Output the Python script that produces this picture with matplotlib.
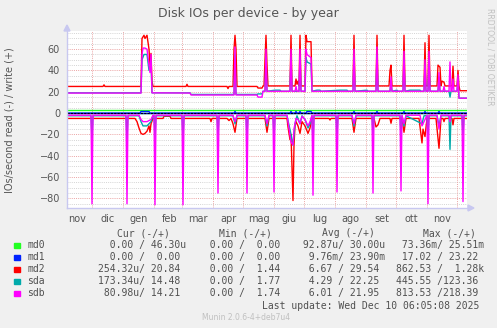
import datetime as dt
import matplotlib
matplotlib.use("Agg")
import matplotlib.pyplot as plt
from matplotlib.patches import Rectangle, Polygon
from matplotlib.lines import Line2D

# x = days since 2024-11-06 (graph covers 400 days up to Dec 10 2025)
start = dt.date(2024, 11, 6)
month_names = ["gen", "feb", "mar", "apr", "mag", "giu",
               "lug", "ago", "set", "ott", "nov", "dic"]

# ---- write side (+) ----
md0_w_x = [0, 400]
md0_w_y = [2.8, 2.8]

md1_w_x = [0, 73, 74, 82, 83, 167, 168, 169, 223, 224, 225, 228, 229, 230, 232, 233, 234,
           239, 240, 244, 245, 286, 287, 288, 309, 310, 311, 336, 337, 338, 357, 358, 359,
           371, 372, 373, 400]
md1_w_y = [0, 0, 1.5, 1.5, 0, 0, 1.5, 0, 0, 1.5, 0, 0, 1.5, 0, 0, 1.5, 0,
           0, 1.5, 1.5, 0, 0, 1.5, 0, 0, 1.5, 0, 0, 1.5, 0, 0, 1.5, 0,
           0, 1.5, 0, 0]

md2_w_x = [0, 36, 37, 38, 74, 75, 77, 78, 80, 82, 83, 84, 85, 86,
           119, 120, 121, 160, 161, 162,
           166, 167, 168, 169, 170,
           190, 191, 195, 196,
           197, 198, 199, 200, 201,
           223, 224, 225,
           228, 229, 230, 231, 232, 233, 234,
           238, 239, 240, 244, 245,
           286, 287, 288, 309, 310, 311,
           322, 323, 324, 325, 336, 337, 338,
           357, 358, 359, 361, 362, 363,
           370, 371, 373, 374, 375, 377, 378,
           385, 386, 387, 390, 391, 392, 393, 400]
md2_w_y = [25, 25, 26.5, 25, 25, 70, 73, 70, 73, 60, 45, 56, 30, 25,
           25, 27, 25, 25, 23, 25,
           25, 60, 73, 60, 25,
           25, 23.5, 23.5, 25.5,
           25.5, 50, 73, 45, 25.5,
           25.5, 73, 25.5,
           25.5, 32, 27, 30, 25.5, 73, 25.5,
           25.5, 73, 67, 67, 25.5,
           25.5, 73, 25.5, 25.5, 73, 25.5,
           25.5, 40, 45, 25.5, 25.5, 73, 25.5,
           25.5, 66, 25.5, 25.5, 73, 25.5,
           25.5, 45, 43, 25.5, 30, 29, 25.5,
           25.5, 44, 25.5, 25.5, 40, 25, 21, 21]

sda_w_x = [0, 74, 75, 77, 80, 82, 84, 85, 123, 124, 167, 168, 169, 190, 191, 195, 196,
           198, 199, 200, 208, 213, 214, 223, 224, 225, 232, 233, 234, 238, 239, 240, 244, 245,
           250, 253, 254, 273, 280, 281, 286, 287, 288, 300, 301, 309, 310, 311,
           323, 324, 325, 330, 331, 336, 337, 338, 343, 353, 354, 357, 358, 359,
           361, 362, 363, 371, 372, 373, 382, 383, 384, 390, 391, 392, 400]
sda_w_y = [19, 19, 50, 55, 55, 40, 48, 19, 19, 17.5, 17.5, 55, 17.5, 17.5, 18, 18, 20.5,
           20.5, 52, 20.5, 21.5, 21.5, 20.5, 20.5, 52, 20.5, 20.5, 52, 20.5, 20.5, 52, 48, 46, 20.5,
           21.5, 21.5, 20.5, 21.5, 21.5, 20.5, 20.5, 52, 20.5, 21.5, 20.5, 20.5, 54, 20.5,
           20.5, 30, 20.5, 21.5, 20.5, 20.5, 50, 20.5, 21.5, 21.5, 20.5, 20.5, 44, 20.5,
           20.5, 50, 20.5, 20.5, 34, 20.5, 20.5, 15, 20.5, 20.5, 32, 14, 14]

sdb_w_x = [0, 74, 75, 76, 78, 80, 82, 83, 84, 85, 123, 124, 167, 168, 169, 190, 191, 195, 196,
           198, 199, 200, 223, 224, 225, 228, 229, 230, 232, 233, 234, 238, 239, 240, 244, 245,
           286, 287, 288, 309, 310, 311, 323, 324, 325, 336, 337, 338, 357, 358, 359,
           361, 362, 363, 371, 372, 373, 376, 377, 378, 382, 383, 384, 385, 386, 387,
           390, 391, 392, 400]
sdb_w_y = [18.8, 18.8, 55, 61, 61, 60, 45, 38, 55, 19, 18.8, 17, 17, 62, 17, 17, 15, 15, 20.5,
           20.5, 60, 20.5, 20.5, 60, 20.5, 20.5, 25, 20.5, 20.5, 60, 20.5, 20.5, 60, 55, 52, 20.5,
           20.5, 60, 20.5, 20.5, 62, 20.5, 20.5, 34, 20.5, 20.5, 58, 20.5, 20.5, 50, 20.5,
           20.5, 58, 20.5, 20.5, 38, 20.5, 20.5, 25, 20.5, 20.5, 48, 20.5, 20.5, 32, 20.5,
           20.5, 36, 14, 14]

# ---- read side (-) ----
md0_r_x = [0, 400]
md0_r_y = [0, 0]
md1_r_x = [0, 400]
md1_r_y = [0, 0]

md2_r_x = [0, 68, 70, 72, 74, 76, 78, 80, 82, 83, 84, 86, 96, 97, 103, 104, 143, 144, 145,
           160, 162, 164, 166, 168, 170, 198, 200, 202, 220, 221, 223, 224, 226, 227, 228, 229,
           231, 233, 235, 238, 241, 243, 245, 262, 263, 264, 285, 287, 289, 307, 309, 311, 313,
           323, 324, 325, 335, 337, 339, 352, 355, 356, 358, 360, 369, 372, 374, 376, 377, 378,
           385, 386, 387, 400]
md2_r_y = [-5, -5, -8, -14, -19, -20, -19, -17, -12, -18, -10, -5, -5, -3, -3, -5, -5, -8, -5,
           -5, -7, -5, -10, -18, -5, -5, -18, -5, -5, -13, -25, -20, -82, -30, -12, -8,
           -12, -19, -8, -12, -19, -14, -5, -5, -6.5, -5, -5, -18, -5, -5, -13, -11, -5,
           -5, -9.5, -5, -5, -18, -5, -5, -28, -15, -22, -5, -5, -33, -5, -5, -8, -5,
           -5, -11, -5, -5]

sda_r_x = [0, 24, 25, 26, 59, 60, 61, 72, 74, 76, 80, 84, 86, 87, 88, 89, 115, 116, 117,
           150, 151, 152, 166, 168, 170, 179, 180, 181, 198, 200, 202, 206, 207, 208,
           220, 224, 226, 228, 230, 233, 235, 238, 241, 243, 245, 246, 247, 269, 270, 271,
           285, 287, 289, 305, 306, 307, 333, 334, 335, 337, 339, 355, 357, 360, 361, 362,
           370, 372, 374, 382, 383, 384, 395, 396, 397, 400]
sda_r_y = [-2.5, -2.5, -23, -2.5, -2.5, -24, -2.5, -2.5, -8, -12, -12, -8, -2.5, -2.5, -24, -2.5,
           -2.5, -24, -2.5, -2.5, -20, -2.5, -2.5, -10, -2.5, -2.5, -20, -2.5, -2.5, -12, -2.5,
           -2.5, -22, -2.5, -2.5, -20, -30, -10, -2.5, -10, -2.5, -6, -14, -10, -2.5, -28, -2.5,
           -2.5, -20, -2.5, -2.5, -12, -2.5, -2.5, -20, -2.5, -2.5, -22, -2.5, -12, -2.5,
           -10, -2.5, -2.5, -20, -2.5, -2.5, -12, -2.5, -2.5, -34, -2.5, -2.5, -20, -2.5, -2.5]

sdb_r_x = [0, 24, 25, 26, 59, 60, 61, 72, 74, 76, 80, 84, 86, 87, 88, 89, 115, 116, 117,
           150, 151, 152, 166, 168, 170, 179, 180, 181, 198, 200, 202, 206, 207, 208,
           220, 221, 224, 226, 227, 229, 231, 233, 235, 238, 241, 243, 245, 246, 247,
           269, 270, 271, 285, 287, 289, 305, 306, 307, 333, 334, 335, 337, 339,
           353, 355, 357, 360, 361, 362, 370, 372, 374, 382, 383, 384, 395, 396, 397, 400]
sdb_r_y = [-2, -2, -85, -2, -2, -85, -2, -2, -6, -8, -8, -6, -2, -2, -86, -2, -2, -86, -2,
           -2, -75, -2, -2, -8, -2, -2, -75, -2, -2, -10, -2, -2, -74, -2,
           -2, -8, -27, -30, -15, -5, -6, -10, -3, -6, -12, -8, -2, -77, -2,
           -2, -74, -2, -2, -10, -2, -2, -75, -2, -2, -73, -2, -10, -2,
           -2, -12, -8, -2, -85, -2, -2, -15, -2, -2, -8, -2, -2, -83, -2, -2]

# ---- legend table ----
names = ["md0", "md1", "md2", "sda", "sdb"]
colors = ["#22ff22", "#0022ff", "#ff0000", "#00aaaa", "#ff00ff"]
cur_vals = [("0.00", "46.30u"), ("0.00", "0.00"), ("254.32u", "20.84"),
            ("173.34u", "14.48"), ("80.98u", "14.21")]
min_vals = [("0.00", "0.00"), ("0.00", "0.00"), ("0.00", "1.44"),
            ("0.00", "1.77"), ("0.00", "1.74")]
avg_vals = [("92.87u", "30.00u"), ("9.76m", "23.90m"), ("6.67", "29.54"),
            ("4.29", "22.25"), ("6.01", "21.95")]
max_vals = [("73.36m", "25.51m"), ("17.02", "23.22"), ("862.53", "1.28k"),
            ("445.55", "123.36"), ("813.53", "218.39")]

W, H = 497, 328
fig = plt.figure(figsize=(W / 100, H / 100), dpi=100, facecolor="#f0f0f0")


def fx(x):
    return x / W


def fy(y):
    return 1 - y / H


ax = fig.add_axes([fx(67), fy(208), 400 / W, (208 - 31) / H])
ax.set_facecolor("white")
ax.set_xlim(0, 400)
ax.set_ylim(-89, 77)

# grid
for v in range(-85, 77, 5):
    if v % 20 == 0:
        continue
    ax.axhline(v, color="#d4d4d4", lw=0.7, ls=(0, (1, 1.2)), zorder=0)
for v in range(-80, 77, 20):
    ax.axhline(v, color="#eba3a3", lw=0.7, ls=(0, (1, 1.2)), zorder=0)

month_starts = []
label_pos = []
label_txt = []
d = dt.date(2024, 11, 1)
while d < dt.date(2026, 1, 1):
    off = (d - start).days
    if 0 < off < 400:
        month_starts.append(off)
    mid = off + 15.5
    if 0 < mid < 400:
        label_pos.append(mid)
        label_txt.append(month_names[d.month - 1])
    d = dt.date(d.year + (d.month == 12), d.month % 12 + 1, 1)
for m in month_starts:
    ax.axvline(m, color="#eba3a3", lw=0.7, ls=(0, (1, 1.2)), zorder=0)

# series: md0, md1, md2, sda, sdb (later on top)
series = [(md0_w_x, md0_w_y, md0_r_x, md0_r_y),
          (md1_w_x, md1_w_y, md1_r_x, md1_r_y),
          (md2_w_x, md2_w_y, md2_r_x, md2_r_y),
          (sda_w_x, sda_w_y, sda_r_x, sda_r_y),
          (sdb_w_x, sdb_w_y, sdb_r_x, sdb_r_y)]
for (wx, wy, rx, ry), c in zip(series, colors):
    ax.plot(wx, wy, color=c, lw=1.0, zorder=3)
    ax.plot(rx, ry, color=c, lw=1.0, zorder=3)
ax.axhline(0, color="black", lw=0.8, ls=(0, (2, 1)), zorder=4)

ax.set_yticks(range(-80, 61, 20))
ax.set_xticks(label_pos)
ax.set_xticklabels(label_txt)
ax.tick_params(length=0, labelsize=7, labelcolor="#555555")
ax.tick_params(axis="y", pad=5)
ax.tick_params(axis="x", pad=4)
for s in ax.spines.values():
    s.set_visible(False)

# axis lines with arrows
ac = "#c8c8f0"
fig.add_artist(Line2D([fx(67), fx(67)], [fy(208), fy(30)], color=ac, lw=1))
fig.add_artist(Line2D([fx(67), fx(469)], [fy(208), fy(208)], color=ac, lw=1))
fig.add_artist(Polygon([[fx(64), fy(31)], [fx(70), fy(31)], [fx(67), fy(25)]],
                       closed=True, color=ac))
fig.add_artist(Polygon([[fx(468), fy(205)], [fx(468), fy(211)], [fx(474), fy(208)]],
                       closed=True, color=ac))

fig.text(fx(248), fy(14), "Disk IOs per device - by year", ha="center", va="center",
         fontsize=9, color="#555555")
fig.text(fx(10), fy(120), "IOs/second read (-) / write (+)", rotation=90,
         ha="center", va="center", fontsize=7, color="#555555")
fig.text(fx(490), fy(57), "RRDTOOL / TOBI OETIKER", rotation=270, ha="center",
         va="center", fontsize=5.5, color="#c0c0c0")


def fld(s):
    if s[-1].isalpha():
        num, suf = s[:-1], s[-1]
    else:
        num, suf = s, " "
    return "%6s%s" % (num, suf)


mono = dict(family="DejaVu Sans Mono", fontsize=7, color="#505050", va="center")
for lbl, xh in zip(["Cur (-/+)", "Min (-/+)", "Avg (-/+)", "Max (-/+)"],
                   [117, 219, 322, 423]):
    fig.text(fx(xh), fy(233), lbl, ha="left", **mono)

cols = [cur_vals, min_vals, avg_vals, max_vals]
col_x = [98, 198, 297, 396]
for i, (n, c) in enumerate(zip(names, colors)):
    yy = 245 + 12 * i
    fig.add_artist(Rectangle((fx(14), fy(yy + 3)), 5.5 / W, 5.5 / H, color=c))
    fig.text(fx(27), fy(yy), n, ha="left", **mono)
    for vals, xc in zip(cols, col_x):
        r, w = vals[i]
        fig.text(fx(xc), fy(yy), fld(r) + "/" + fld(w), ha="left", **mono)

fig.text(fx(262), fy(306), "Last update: Wed Dec 10 06:05:08 2025", ha="left", **mono)
fig.text(fx(202), fy(317), "Munin 2.0.6-4+deb7u4", ha="left", va="center",
         fontsize=5.5, color="#c0c0c0")

fig.savefig("out.png", dpi=100, facecolor=fig.get_facecolor())
